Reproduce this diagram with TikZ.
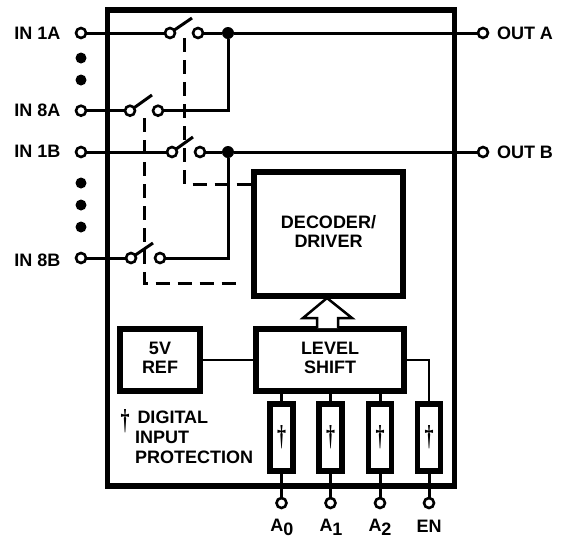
\documentclass[tikz,border=0pt]{standalone}
\usepackage{fontspec}
\setmainfont{Liberation Sans}
\newfontfamily\daggerfont{Liberation Serif}
\newcommand{\lab}{\fontsize{18}{20.2}\selectfont\bfseries}
\newcommand{\boxlab}{\fontsize{18}{19}\selectfont\bfseries}
\newcommand{\subd}[2]{#1\raisebox{-4pt}{#2}}
\newcommand{\dagmark}{\scalebox{1}[1.6]{\daggerfont\bfseries\fontsize{18}{18}\selectfont †}}
\newcommand{\twolines}[2]{\raisebox{1.5pt}{\begin{tabular}{@{}c@{}}#1\\#2\end{tabular}}}
\tikzset{
  x=1pt,y=-1pt,
  wire/.style={line width=3pt},
  thin wire/.style={line width=2.5pt},
  term/.style={circle,draw,fill=white,line width=2.6pt,minimum size=10pt,inner sep=0pt,outer sep=0pt},
  blob/.style={circle,fill=black,minimum size=12pt,inner sep=0pt,outer sep=0pt},
  frame box/.style={rectangle,draw,line width=5.5pt,inner sep=0pt,outer sep=0pt,align=center,font=\boxlab},
  prot/.style={frame box,minimum width=23pt,minimum height=67pt},
  ctl/.style={line width=3pt,dash pattern=on 14pt off 8pt},
  txt/.style={font=\lab,inner sep=0pt,outer sep=0pt,align=left},
}
\begin{document}
\begin{tikzpicture}
\useasboundingbox (0,0) rectangle (567,542);
\node[frame box,minimum width=347pt,minimum height=476pt] (chip) at (281,248) {};
\node[frame box,minimum width=149pt,minimum height=124pt] (dec) at (328.5,234) {\twolines{DECODER/}{DRIVER}};
\node[frame box,minimum width=148pt,minimum height=62pt] (lev) at (330,360) {\twolines{LEVEL}{SHIFT}};
\node[frame box,minimum width=80pt,minimum height=62pt] (ref) at (160,360) {\twolines{5V}{REF}};
\foreach \n/\x in {pa/281.5,pb/330.5,pc/380,pd/429}
  \node[prot] (\n) at (\x,437.5) {\dagmark};
% terminals
\node[term] (ia) at (81,33) {};
\node[term] (ib) at (81,110.7) {};
\node[term] (ic) at (81,152) {};
\node[term] (id) at (81,258) {};
\node[term] (oa) at (483,33) {};
\node[term] (ob) at (483,152) {};
\node[term] (ta) at (281.5,503) {};
\node[term] (tb) at (330.5,503) {};
\node[term] (tc) at (380,503) {};
\node[term] (td) at (429,503) {};
% switches
\node[term] (s1l) at (170,33) {};
\node[term] (s1r) at (198,33) {};
\node[term] (s2l) at (130,110.7) {};
\node[term] (s2r) at (158,110.7) {};
\node[term] (s3l) at (172,152) {};
\node[term] (s3r) at (200,152) {};
\node[term] (s4l) at (131,258) {};
\node[term] (s4r) at (160,258) {};
\coordinate (b1) at (192,18);
\coordinate (b2) at (152,95);
\coordinate (b3) at (193,137);
\coordinate (b4) at (153,243);
\node[blob] (ja) at (228,33) {};
\node[blob] (jb) at (228,152) {};
% wires
\draw[wire] (ia) -- (s1l);
\draw[wire] (s1r) -- (ja);
\draw[wire] (ja) -- (oa);
\draw[wire] (ic) -- (s3l);
\draw[wire] (s3r) -- (jb);
\draw[wire] (jb) -- (ob);
\draw[wire] (ib) -- (s2l);
\draw[wire] (id) -- (s4l);
\draw[wire,line join=miter] (s2r) -| (ja);
\draw[wire,line join=miter] (s4r) -| (jb);
\foreach \a/\b in {s1l/b1,s2l/b2,s3l/b3,s4l/b4}
  \draw[wire] (\a) -- (\b);
% control lines
\coordinate (c1) at (184.5,38);
\coordinate (c1e) at (184.5,184);
\coordinate (c2) at (144.7,118);
\coordinate (c2e) at (144.7,283);
\draw[ctl] (c1) -- (c1e) -- (dec.west |- c1e);
\draw[ctl] (c2) -- (c2e) -- (240,283);
% hollow arrow
\draw[thin wire,fill=white,line join=miter] (317,328) -- (317,318) -- (303,318) -- (327,298) -- (352,318) -- (338,318) -- (338,328);
% level shift connections
\draw[thin wire] (ref.east) -- (lev.west);
\draw[thin wire] (lev.east) -| (pd.north);
\foreach \n in {a,b,c}
  \draw[wire] (lev.south -| p\n.north) -- (p\n.north);
\foreach \n in {a,b,c,d}
  \draw[wire] (p\n.south) -- (t\n);
% dots
\foreach \n/\y in {da/58,db/80,dc/183,dd/205,de/227}
  \node[blob,minimum size=11pt] (\n) at (81,\y) {};
% labels
\node[txt,anchor=east] (lia) at (60.5,33) {IN 1A};
\node[txt,anchor=east] (lib) at (60.5,110) {IN 8A};
\node[txt,anchor=east] (lic) at (60.5,151) {IN 1B};
\node[txt,anchor=east] (lid) at (60.5,260) {IN 8B};
\node[txt,anchor=west] (loa) at (497,33) {OUT A};
\node[txt,anchor=west] (lob) at (497,152) {OUT B};
\node[txt] (la) at (282,527) {\subd{A}{0}};
\node[txt] (lb) at (331,527) {\subd{A}{1}};
\node[txt] (lc) at (380,527) {\subd{A}{2}};
\node[txt] (ld) at (429,526) {EN};
\node[inner sep=0pt] (dg) at (125,421) {\dagmark};
\node[txt,anchor=west] (t1) at (135,437) {\hspace*{2.5pt}DIGITAL\\INPUT\\PROTECTION};
\end{tikzpicture}
\end{document}
